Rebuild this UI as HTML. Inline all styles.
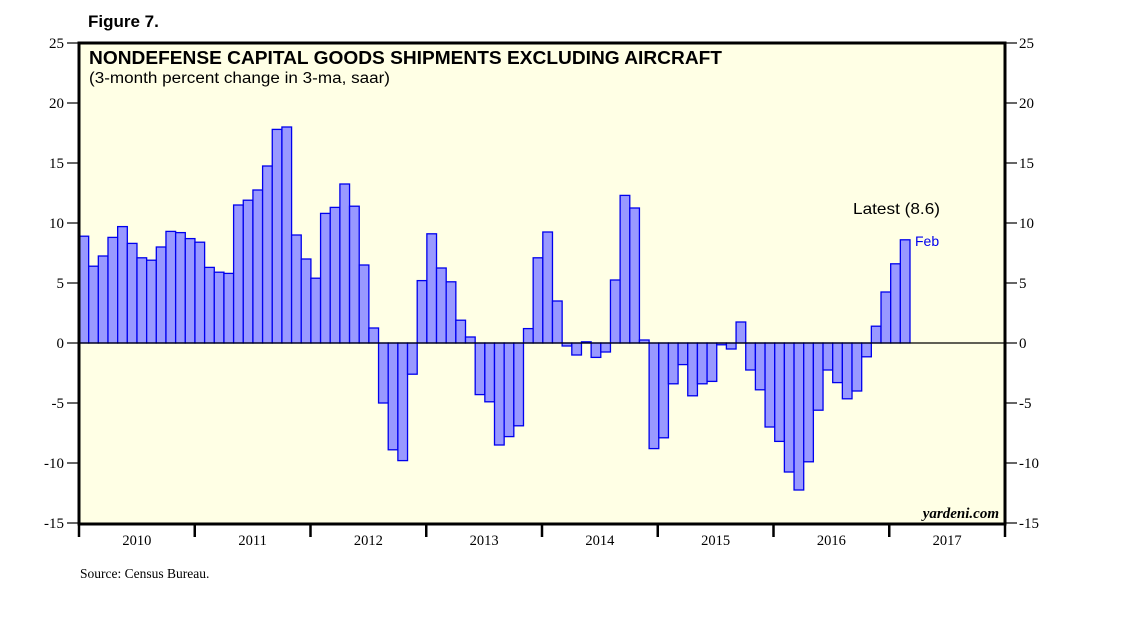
<!DOCTYPE html>
<html><head><meta charset="utf-8"><style>
html,body{margin:0;padding:0;background:#fff;}
svg{display:block;}
</style></head><body>
<svg id="chart" width="1138" height="621" xmlns="http://www.w3.org/2000/svg">
<text x="88" y="27" font-family="Liberation Sans, sans-serif" font-weight="bold" font-size="17">Figure 7.</text>
<rect x="79" y="43" width="926" height="481" fill="#ffffe5"/>
<g id="bars"></g>
<line id="zero" x1="79" x2="1005" stroke="#000" stroke-width="1.3"/>
<rect x="79" y="43" width="926" height="481" fill="none" stroke="#000" stroke-width="3"/>
<text x="89" y="64" font-family="Liberation Sans, sans-serif" font-weight="bold" font-size="18.5" textLength="633" lengthAdjust="spacingAndGlyphs">NONDEFENSE CAPITAL GOODS SHIPMENTS EXCLUDING AIRCRAFT</text>
<text x="89" y="83" font-family="Liberation Sans, sans-serif" font-size="15.5" textLength="301" lengthAdjust="spacingAndGlyphs">(3-month percent change in 3-ma, saar)</text>
<text x="853" y="214" font-family="Liberation Sans, sans-serif" font-size="16" textLength="87" lengthAdjust="spacingAndGlyphs">Latest (8.6)</text>
<text x="915" y="246" font-family="Liberation Sans, sans-serif" font-size="14" fill="#0000ee">Feb</text>
<text x="999" y="518" text-anchor="end" font-family="Liberation Serif, serif" font-style="italic" font-weight="bold" font-size="15">yardeni.com</text>
<g id="yaxes"></g>
<g id="xaxis"></g>
<text x="80" y="578" font-family="Liberation Serif, serif" font-size="13.5">Source: Census Bureau.</text>
</svg>
<script>
const values = [8.9,6.4,7.25,8.8,9.7,8.3,7.1,6.9,8.0,9.3,9.2,8.7,8.4,6.3,5.9,5.8,11.5,11.9,12.75,14.75,17.8,18.0,9.0,7.0,5.4,10.8,11.3,13.25,11.4,6.5,1.25,
-5.0,-8.9,-9.8,-2.6,5.2,9.1,6.25,5.1,1.9,0.5,-4.3,-4.9,-8.5,-7.8,-6.9,1.2,7.1,9.25,3.5,-0.25,-1.0,0.1,-1.2,-0.75,5.25,12.3,11.25,0.25,
-8.8,-7.9,-3.4,-1.8,-4.4,-3.4,-3.2,-0.15,-0.5,1.75,-2.25,-3.9,-7.0,-8.2,-10.75,-12.25,-9.9,-5.6,-2.25,-3.3,-4.65,-4.0,-1.15,1.4,4.25,6.6,8.6];
const yTicks = [25,20,15,10,5,0,-5,-10,-15];
const years = ["2010","2011","2012","2013","2014","2015","2016","2017"];
const NS="http://www.w3.org/2000/svg";
const X0=79, X1=1005, Y0=43, Y1=523, YMAX=25, YMIN=-15;
function yScale(v){return Y0+(YMAX-v)*(Y1-Y0)/(YMAX-YMIN);}
const barW=(910-X0)/values.length;
function xScale(i){return X0+i*barW;}
function mk(tag,attrs,parent){const e=document.createElementNS(NS,tag);for(const k in attrs)e.setAttribute(k,attrs[k]);parent.appendChild(e);return e;}
const bars=document.getElementById('bars');
values.forEach((v,i)=>{
  const y=Math.min(yScale(v),yScale(0)), h=Math.abs(yScale(v)-yScale(0));
  const r=mk('rect',{x:xScale(i),y:y,width:barW,height:h,fill:'#9999ff',stroke:'#0000ee','stroke-width':1.3},bars);
  
  
});
const z=document.getElementById('zero');z.setAttribute('y1',yScale(0));z.setAttribute('y2',yScale(0));
const ya=document.getElementById('yaxes');
yTicks.forEach(t=>{
  const y=yScale(t);
  const l1=mk('line',{x1:67,x2:79,y1:y,y2:y,stroke:'#000','stroke-width':1.2},ya);
  
  
  const l2=mk('line',{x1:1005,x2:1017,y1:y,y2:y,stroke:'#000','stroke-width':1.2},ya);
  
  
  const a=mk('text',{x:64,y:y+5,'text-anchor':'end','font-family':'Liberation Serif, serif','font-size':15},ya);a.textContent=t;
  
  
  const b=mk('text',{x:1019,y:y+5,'font-family':'Liberation Serif, serif','font-size':15},ya);b.textContent=t;
  
  
});
const xa=document.getElementById('xaxis');
const yw=(X1-X0)/years.length;
for(let i=0;i<=years.length;i++){
  const x=X0+i*yw;
  const l=mk('line',{x1:x,x2:x,y1:Y1,y2:537,stroke:'#000','stroke-width':2.5},xa);
  
  
}
years.forEach((yr,i)=>{
  const t=mk('text',{x:X0+(i+0.5)*yw,y:545,'text-anchor':'middle','font-family':'Liberation Serif, serif','font-size':14.5},xa);t.textContent=yr;
  
  
});
</script>
</body></html>
